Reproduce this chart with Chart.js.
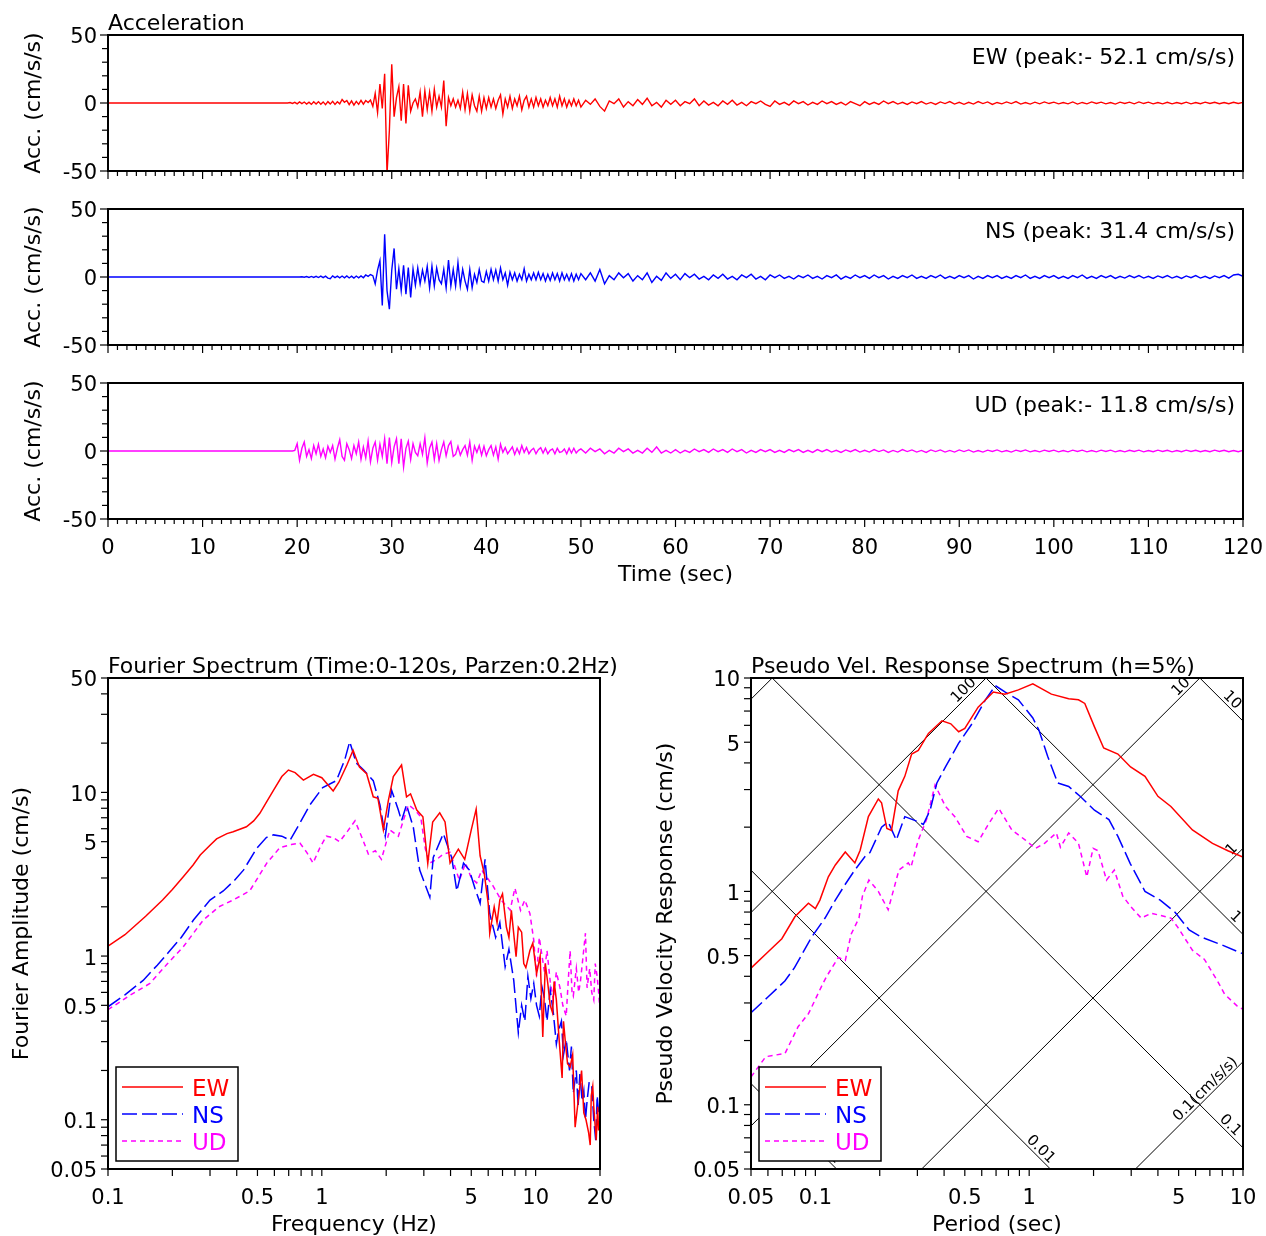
<!DOCTYPE html>
<html>
<head>
<meta charset="utf-8">
<title>Acceleration record and spectra</title>
<script src="https://cdn.jsdelivr.net/npm/chart.js@4.4.1/dist/chart.umd.min.js"></script>
<style>
  html, body { margin: 0; background: #fff; }
  #page { position: relative; width: 1266px; height: 1236px; }
  #page canvas { position: absolute; left: 0; top: 0; }
</style>
</head>
<body>
<div id="page">
  <canvas id="ew" width="1266" height="1236"></canvas>
  <canvas id="ns" width="1266" height="1236"></canvas>
  <canvas id="ud" width="1266" height="1236"></canvas>
  <canvas id="fourier" width="1266" height="1236"></canvas>
  <canvas id="psv" width="1266" height="1236"></canvas>
</div>
<script>
"use strict";

// ---- time histories (cm/s/s) ----
// strong part: 19 s .. 50 s every 0.25 s, coda: 50.5 s .. 120 s every 0.5 s
const strongStart = 19, strongStep = 0.25;
const codaStart = 50.5, codaStep = 0.5;

const ewStrong = [
  0, 0.3, -0.3, 0.5, -0.6, 0.8, -0.5, 0.7, -0.8, 0.6, -1.0, 0.9,
  -0.7, 1.0, -0.9, 0.8, -1.2, 1.0, -0.8, 1.2, -1.0, 0.9, -0.6, 2.6,
  0.5, 1.8, -1.2, 1.5, -1.6, 1.2, -1.0, 2.0, -0.8, 1.8, 0.4, 2.2,
  -2.5, 7.0, -7.0, 14.0, -4.0, 21.5, -52.1, -20.0, 28.5, -10, 4, 12,
  -13, 14, -15, 13, -6, 0, 3, -3, 8, -10, 9, -5,
  8, -6, 10, -3, 5, -3, 16.5, -17, 4, -2, 3, -3,
  2, -4, 8, -5, 7, -6, 6, -2, -6, 5, -6, 4,
  -4, 4, -3, 3, -4, 2, 6, -8, 3, -3, 5, -4,
  3, -2, 5, -5, 2, 5, -3, 3, -3, 4, -2, 3,
  -3, 2, -2, 4, -2, 3, -3, 5, -2, 3, -3, 2,
  -2, 3, -2, 2, -3
];
const ewCoda = [
  2, -1, 3, -2.5, -6, 1.5, -0.5, 3, -3, 1,
  -2, 2.5, -1, 3.5, -2, 0.5, -3, 2, -1, 2,
  -2, 1, -0.5, 3, -2, 1.5, -1.5, 0.5, -2, 1.5,
  -1, 2, -1.5, 0.5, -2, 1, -0.5, 1.5, -1, -2.5,
  1.5, -1, 0.5, -1.5, 1.5, -0.5, 1, -1.5, 0.5, -1,
  1.5, -0.5, 1, -1, 0.5, -1.5, 1, -0.5, -2, 1,
  -1, 0.5, -1, 1.5, -0.5, 1, -0.8, 0.5, -1, 0.8,
  -0.5, 1, -0.8, 0.4, -1, 0.8, -0.4, 1, -0.8, 0.5,
  -1, 0.5, -0.8, 1, -0.4, 0.8, -1, 0.4, -0.6, 0.8,
  -0.4, 1, -0.8, 0.3, -0.8, 0.6, -0.6, 0.8, -0.4, 0.6,
  -0.6, 0.3, -0.6, 0.8, -0.8, 0.4, -0.6, 0.8, -0.3, 0.6,
  -0.6, 0.3, -0.8, 0.6, -0.3, 0.6, -0.6, 0.8, -0.4, 0.6,
  -0.6, 0.3, -0.6, 0.5, -0.6, 0.3, -0.5, 0.6, -0.6, 0.3,
  -0.5, 0.6, -0.3, 0.5, -0.5, 0.3, -0.5, 0.5, -0.3, 0.5
];

const nsStrong = [
  0, 0, 0, 0, 0, 0, 0.2, -0.2, 0.3, -0.3, 0.4, -0.3,
  0.5, -0.4, 0.6, -0.5, 0.6, -0.8, -1.2, 0.8, -0.5, 0.6, -0.6, 0.7,
  -0.6, 0.8, -0.7, 0.6, -0.8, 0.7, -0.6, 0.8, -0.6, 1.5, 0.5, 1.8,
  1.0, -5, 5, 12, -21, 31.4, -10, -23.7, 5, 21, -9, 6,
  -10, 8.6, -12.7, 7, -15, 6, -6, 6.6, -5, 5, -3, 7.8,
  -8, 8, -6.6, 6.6, -2, -5, 5.6, -8, 12.5, -6.6, 5.6, -6.6,
  10.5, -6.6, 5.6, -3, -9, 5.6, -7.8, 2, -4, 5.6, -3, -4,
  4, -3, 5.6, -2, 5, -3, 6.6, -2, 3, -6, 3.5, -2,
  3, -3, 2, -2, 6, -3, 2, -2, 3, -2, 3.5, -2,
  2.5, -3, 2, -2.5, 3, -2, 2.5, -3, 3, -2, 2, -2.5,
  2.5, -3, 2, -2, 2.5
];
const nsCoda = [
  -2, 3, -3, 5.5, -5, 1, -2, 3, -0.5, 2.5,
  -3, 1, -2, 3, -4, 0.5, -2.5, 3, -1, 2,
  -2, 2.5, -0.5, 2, -1.5, 0.5, -2, 1.5, -1, 2,
  -1.5, 0.5, -2, 1.5, -0.5, 2, -1.5, 0.5, -2, 1.5,
  -0.5, 1.5, -1, 0.5, -1.5, 1, -0.5, 1.5, -1, 0.5,
  -1.5, 1, -0.5, 1.5, -1.5, 0.5, -1, 1.5, -0.5, 1,
  -1, 1.5, -0.5, 1, -1.5, 0.5, -1, 1, -0.5, 1.5,
  -1, 0.5, -1, 1, -0.5, 1.5, -1, 0.5, -1, 1,
  -0.5, 1, -1.5, 0.5, -1, 1, -0.5, 1, -1, 0.5,
  -1, 1, -0.5, 1.5, -1, 0.5, -1, 1, -0.5, 1,
  -1, 0.5, -1, 1, -0.5, 1.5, -1, 0.5, -1, 1,
  -0.5, 1, -1, 0.5, -0.8, 1, -0.5, 1, -0.8, 0.5,
  -1, 0.8, -0.5, 1, -0.8, 0.5, -1, 0.8, -0.5, 1,
  -0.8, 0.5, -1, 0.8, -0.5, 1, -0.8, 1.5, 2, 0.5
];

const udStrong = [
  0, 0, 0, 0.5, 5.4, -6.8, 2, 6.6, -4, 1, -5.6, 4,
  -2, 5, -4, 1.5, -5, 3.5, -1, 4, -6, 2, 8.3, -4,
  -6.8, 5.4, 1, -5.6, 4, -2, 6.6, -6.2, 3, -5, 7.3, -8,
  2, 6.6, -6.8, 5, -4, 9, -9.3, 9.8, -8.5, 3, 9, -9.3,
  9, -11.8, 2, 7.3, -6.2, 5.4, -1, -3.5, 5.4, -2.5, 9.8, -8.8,
  2, 6.6, -6.2, 5.4, -7, 1, 6.6, -3.5, 4, 7, -4, -2.5,
  3.5, -3, 1, 4, -3, 6.6, -7, 3.5, -1, 4, -3, 3.5,
  -3.5, 1, 4, -3, 3, -6, 5, -1, 2.5, -2, 0.5, 3,
  -2.5, 2, -2, 4, -1, 2.5, -2, 0.5, 2, -2, 1, 2.5,
  -1.5, 2, -2, 0.5, 1.5, -2, 2, -1, -0.5, 1.5, -2, 2,
  -1.5, 2, -1.5, 0.5, 1.5
];
const udCoda = [
  -1.5, 2, -0.5, 1.5, -2, 0.5, -1.5, 2, -0.5, 1.5,
  -1.5, 0.5, -1.5, 2, -1, 3, -1.5, 0.5, -1.5, 1,
  -1.5, 0.5, -1, 1.5, -0.5, 1, -1, 1.5, -0.5, 1,
  -1, 1.5, -0.5, 1, -1.5, 0.5, -1, 1, -0.5, 1,
  -1, 0.5, -1, 1, -0.5, 1, -1, 0.5, -1, 1,
  -0.5, 1, -0.8, 0.5, -1, 0.8, -0.5, 1, -0.8, 0.5,
  -0.8, 1, -0.4, 0.8, -1, 0.4, -0.8, 1, -0.4, 0.8,
  -0.8, 0.4, -1, 0.8, -0.4, 0.8, -0.8, 0.4, -0.8, 0.8,
  -0.4, 0.8, -0.8, 0.3, -0.8, 0.6, -0.3, 0.8, -0.6, 0.3,
  -0.8, 0.6, -0.3, 0.8, -0.6, 0.3, -0.6, 0.6, -0.3, 0.6,
  -0.6, 0.3, -0.6, 0.6, -0.3, 0.6, -0.6, 0.3, -0.6, 0.6,
  -0.3, 0.6, -0.6, 0.3, -0.6, 0.5, -0.3, 0.6, -0.6, 0.3,
  -0.5, 0.6, -0.3, 0.5, -0.6, 0.3, -0.5, 0.6, -0.3, 0.5,
  -0.5, 0.3, -0.5, 0.6, -0.3, 0.5, -0.5, 0.3, -0.5, 0.5
];

// ---- Fourier spectra (Hz, cm/s) ----
const ewFreq = [
  0.1, 0.12, 0.15, 0.18, 0.2, 0.225, 0.25, 0.27, 0.3, 0.322,
  0.36, 0.385, 0.444, 0.48, 0.513, 0.55, 0.594, 0.65, 0.698, 0.75,
  0.82, 0.914, 1.0, 1.13, 1.2, 1.31, 1.4, 1.45, 1.5, 1.62,
  1.74, 1.83, 1.94, 2.05, 2.16, 2.36, 2.49, 2.6, 2.78, 2.97,
  3.13, 3.3, 3.56, 3.77, 3.98, 4.35, 4.66, 5.0, 5.27, 5.5,
  5.75, 6.0, 6.1, 6.4, 6.6, 6.8, 7.0, 7.3, 7.5, 7.7,
  8.1, 8.3, 8.6, 8.8, 9.0, 9.4, 9.7, 10.1, 10.5, 10.8,
  11.1, 11.4, 11.7, 12.0, 12.2, 12.5, 12.9, 13.3, 13.5, 13.8,
  14.1, 14.5, 14.9, 15.3, 15.7, 16.1, 16.4, 16.8, 17.2, 17.7,
  18.0, 18.2, 18.5, 18.7, 19.2, 19.5, 19.7, 20
];
const ewFourier = [
  1.15, 1.35, 1.75, 2.2, 2.55, 3.05, 3.6, 4.14, 4.75, 5.2,
  5.6, 5.75, 6.17, 6.7, 7.45, 8.7, 10.3, 12.5, 13.7, 13.2,
  11.9, 12.9, 12.3, 10.2, 11.5, 14.7, 18.1, 16, 14.3, 13.0,
  9.4, 9.2, 5.9, 9, 12.5, 14.7, 9.4, 9.8, 7.8, 7.1,
  3.68, 6.6, 7.5, 6.6, 3.7, 4.5, 3.9, 5.9, 7.9, 4.1,
  3.2, 2.1, 1.38, 2.0, 1.6, 2.2, 2.4, 1.5, 1.3, 1.9,
  0.99, 1.5, 1.4, 0.9, 0.85, 1.08, 1.2, 0.78, 1.0, 0.32,
  0.9, 0.68, 0.5, 0.45, 0.7, 0.54, 0.3, 0.18, 0.4, 0.29,
  0.22, 0.21, 0.25, 0.09, 0.12, 0.16, 0.2, 0.11, 0.1, 0.083,
  0.07, 0.14, 0.16, 0.12, 0.075, 0.12, 0.086, 0.1
];
const nsFreq = [
  0.1, 0.12, 0.146, 0.17, 0.195, 0.22, 0.251, 0.3, 0.346, 0.39,
  0.43, 0.496, 0.55, 0.594, 0.65, 0.71, 0.79, 0.88, 1.01, 1.17,
  1.28, 1.35, 1.45, 1.57, 1.74, 1.87, 1.98, 2.12, 2.28, 2.36,
  2.49, 2.68, 2.87, 3.2, 3.32, 3.7, 4.05, 4.28, 4.6, 4.9,
  5.2, 5.5, 5.8, 6.1, 6.5, 6.8, 7.2, 7.5, 7.9, 8.3,
  8.6, 8.9, 9.2, 9.5, 9.8, 10.1, 10.4, 10.7, 11.0, 11.3,
  11.7, 12.1, 12.5, 12.8, 13.2, 13.5, 13.9, 14.4, 14.7, 15.0,
  15.5, 15.8, 16.1, 16.5, 16.8, 17.1, 17.4, 17.8, 18.3, 18.7,
  19.1, 19.4, 19.6, 20
];
const nsFourier = [
  0.49, 0.58, 0.71, 0.88, 1.08, 1.3, 1.66, 2.2, 2.5, 2.9,
  3.35, 4.55, 5.3, 5.5, 5.4, 5.1, 6.5, 8.4, 10.7, 11.8,
  15.8, 20.4, 15.1, 13.7, 11.8, 8.4, 5.4, 10.3, 7.8, 6.7,
  8.4, 6.1, 3.35, 2.29, 4.0, 5.6, 4.0, 2.5, 3.7, 3.35,
  2.6, 2.1, 3.9, 1.82, 1.3, 1.6, 0.86, 1.1, 0.71, 0.34,
  0.5, 0.4, 0.75, 0.55, 0.68, 0.5, 0.43, 0.65, 0.55, 0.4,
  0.62, 0.45, 0.29, 0.35, 0.4, 0.25, 0.31, 0.2, 0.28, 0.145,
  0.2, 0.12, 0.19, 0.13, 0.15, 0.1, 0.13, 0.17, 0.16, 0.1,
  0.075, 0.14, 0.12, 0.1
];
const udFreq = [
  0.1, 0.125, 0.157, 0.19, 0.225, 0.279, 0.33, 0.385, 0.46, 0.553,
  0.637, 0.72, 0.79, 0.85, 0.91, 0.98, 1.05, 1.13, 1.21, 1.32,
  1.43, 1.55, 1.65, 1.78, 1.9, 2.08, 2.28, 2.54, 2.73, 2.9,
  3.05, 3.2, 3.45, 3.7, 3.98, 4.4, 4.7, 5.0, 5.3, 5.6,
  6.3, 6.9, 7.6, 8.0, 8.5, 8.9, 9.4, 9.8, 10.1, 10.4,
  10.6, 11.0, 11.3, 11.7, 12.1, 12.5, 13.0, 13.4, 13.9, 14.2,
  14.5, 14.8, 15.0, 15.5, 15.9, 16.2, 16.6, 17.1, 17.4, 17.9,
  18.3, 18.7, 19.0, 19.4, 19.7, 20
];
const udFourier = [
  0.47, 0.57, 0.68, 0.9, 1.14, 1.66, 2.0, 2.2, 2.5, 3.7,
  4.6, 4.8, 4.9, 4.3, 3.7, 4.6, 5.4, 5.3, 5.0, 5.8,
  6.7, 5.2, 4.2, 4.4, 3.9, 5.9, 5.4, 8.4, 7.8, 7.1,
  4.5, 3.7, 3.9, 4.2, 4.3, 2.9, 3.7, 3.0, 2.8, 3.35,
  2.7, 2.2, 1.91, 2.6, 1.9, 2.2, 1.82, 1.25, 0.75, 1.3,
  1.1, 0.8, 1.08, 0.7, 0.54, 0.8, 0.64, 0.5, 0.43, 0.7,
  1.08, 0.6, 0.57, 0.84, 0.6, 0.7, 0.95, 1.38, 0.64, 0.84,
  0.6, 0.54, 0.9, 0.75, 0.6, 0.47
];

// ---- pseudo velocity response, h=5% (sec, cm/s) ----
const ewPeriod = [
  0.05, 0.06, 0.0697, 0.0802, 0.0928, 0.1, 0.105, 0.115, 0.124, 0.138,
  0.153, 0.162, 0.177, 0.197, 0.204, 0.216, 0.227, 0.244, 0.262, 0.282,
  0.303, 0.338, 0.391, 0.43, 0.468, 0.5, 0.577, 0.68, 0.77, 0.89,
  1.04, 1.27, 1.53, 1.7, 1.82, 2.02, 2.23, 2.6, 2.98, 3.48,
  4.0, 4.6, 5.8, 7.2, 8.5, 10
];
const ewPsv = [
  0.437, 0.52, 0.6, 0.76, 0.88, 0.83, 0.91, 1.17, 1.33, 1.53,
  1.36, 1.56, 2.24, 2.71, 2.6, 1.97, 1.93, 2.96, 3.46, 4.4,
  4.58, 5.5, 6.3, 6.1, 5.6, 5.8, 7.3, 8.6, 8.4, 8.8,
  9.4, 8.4, 8.0, 7.9, 7.6, 5.9, 4.7, 4.4, 3.83, 3.46,
  2.79, 2.5, 1.94, 1.68, 1.55, 1.45
];
const nsPeriod = [
  0.05, 0.06, 0.072, 0.08, 0.096, 0.111, 0.124, 0.138, 0.153, 0.171,
  0.18, 0.204, 0.219, 0.239, 0.262, 0.303, 0.32, 0.344, 0.37, 0.406,
  0.468, 0.54, 0.624, 0.695, 0.77, 0.89, 1.04, 1.11, 1.22, 1.36,
  1.53, 1.73, 2.02, 2.36, 2.6, 2.97, 3.48, 4.1, 4.8, 5.6,
  6.4, 8, 10
];
const nsPsv = [
  0.27, 0.32, 0.38, 0.44, 0.61, 0.75, 0.91, 1.08, 1.26, 1.46,
  1.52, 2.0, 2.12, 1.74, 2.24, 2.12, 2.06, 2.4, 3.22, 3.83,
  4.95, 6.1, 7.9, 9.2, 8.6, 7.9, 6.5, 5.7, 4.3, 3.22,
  3.1, 2.79, 2.4, 2.17, 1.81, 1.35, 1.0, 0.91, 0.8, 0.66,
  0.61, 0.56, 0.51
];
const udPeriod = [
  0.05, 0.0586, 0.0721, 0.083, 0.093, 0.107, 0.113, 0.128, 0.138, 0.147,
  0.16, 0.166, 0.178, 0.197, 0.219, 0.246, 0.272, 0.28, 0.303, 0.331,
  0.363, 0.406, 0.449, 0.51, 0.577, 0.64, 0.72, 0.83, 0.96, 1.07,
  1.18, 1.34, 1.4, 1.53, 1.7, 1.86, 1.99, 2.1, 2.3, 2.5,
  2.74, 2.98, 3.34, 3.73, 4.6, 4.95, 5.8, 6.6, 7.6, 8.2,
  9.4, 10
];
const udPsv = [
  0.135, 0.168, 0.174, 0.232, 0.268, 0.36, 0.4, 0.49, 0.475, 0.63,
  0.75, 0.95, 1.13, 1.0, 0.82, 1.26, 1.36, 1.3, 1.74, 2.17,
  3.15, 2.5, 2.24, 1.81, 1.71, 2.04, 2.45, 1.94, 1.74, 1.59,
  1.68, 1.88, 1.61, 1.88, 1.68, 1.17, 1.59, 1.55, 1.13, 1.26,
  0.95, 0.85, 0.75, 0.79, 0.75, 0.68, 0.53, 0.48, 0.38, 0.33,
  0.29, 0.28
];

// ---- axis labels ----
const timeLabels = [0, 10, 20, 30, 40, 50, 60, 70, 80, 90, 100, 110, 120];
const accLabels = [-50, 0, 50];
const freqLabels = [0.1, 0.5, 1, 5, 10, 20];
const fourierLabels = [0.05, 0.1, 0.5, 1, 5, 10, 50];
const periodLabels = [0.05, 0.1, 0.5, 1, 5, 10];
const psvLabels = [0.05, 0.1, 0.5, 1, 5, 10];

// tripartite grid: acceleration (cm/s/s) and displacement (cm) lines
const accLevels = [1000, 100, 10, 1, 0.1];
const accTags = ["", "100", "10", "1", "0.1(cm/s/s)"];
const dispLevels = [10, 1, 0.1, 0.01, 0.001];
const dispTags = ["10", "1", "0.1", "0.01", "0.001"];

const FONT = "'DejaVu Sans', sans-serif";
const PAGE_H = 1236, PAGE_W = 1266;
const RED = "#ff0000", BLUE = "#0000ff", MAGENTA = "#ff00ff";
const DY = 3; // middle baseline sits a little high for this font

Chart.defaults.font.family = FONT;
Chart.defaults.color = "#000";

function toPoints(strong, coda) {
  const pts = [{ x: 0, y: 0 }];
  strong.forEach((v, i) => pts.push({ x: strongStart + i * strongStep, y: v }));
  coda.forEach((v, i) => pts.push({ x: codaStart + i * codaStep, y: v }));
  return pts;
}

function pairs(xs, ys) {
  return xs.map((v, i) => ({ x: v, y: ys[i] }));
}

function range(from, to, step) {
  const out = [];
  for (let v = from; v <= to + 1e-9; v += step) out.push(Math.round(v * 1000) / 1000);
  return out;
}

function logTicks(min, max) {
  const out = [];
  for (let e = Math.floor(Math.log10(min)); e <= Math.ceil(Math.log10(max)); e++) {
    for (let m = 1; m <= 9; m++) {
      const v = Number((m * Math.pow(10, e)).toPrecision(6));
      if (v >= min * 0.999 && v <= max * 1.001) out.push(v);
    }
  }
  return out;
}

function labelFor(list) {
  return (v) => (list.some((l) => Math.abs(l - v) < 1e-9 * Math.max(1, Math.abs(l))) ? String(v) : "");
}

function tickLine(ctx, x1, y1, x2, y2) {
  ctx.beginPath();
  ctx.moveTo(x1, y1);
  ctx.lineTo(x2, y2);
  ctx.stroke();
}

function drawLegend(chart) {
  const { ctx, chartArea: a } = chart;
  const left = a.left + 8, top = a.bottom - 102;
  ctx.save();
  ctx.fillStyle = "#fff";
  ctx.fillRect(left, top, 122, 94);
  ctx.strokeStyle = "#000";
  ctx.lineWidth = 1.5;
  ctx.strokeRect(left, top, 122, 94);
  ctx.font = `23px ${FONT}`;
  ctx.textBaseline = "middle";
  ctx.textAlign = "left";
  chart.data.datasets.forEach((ds, i) => {
    const yy = top + 20 + i * 27;
    ctx.strokeStyle = ds.borderColor;
    ctx.lineWidth = ds.borderWidth;
    ctx.setLineDash(ds.borderDash || []);
    tickLine(ctx, left + 6, yy, left + 67, yy);
    ctx.setLineDash([]);
    ctx.fillStyle = ds.borderColor;
    ctx.fillText(ds.label, left + 76, yy + DY);
  });
  ctx.restore();
}

function tagLine(ctx, text, end, dx, dy, back) {
  if (!text) return;
  const len = Math.hypot(dx, dy), ux = dx / len, uy = dy / len;
  ctx.save();
  ctx.translate(end[0] - ux * back, end[1] - uy * back);
  ctx.rotate(Math.atan2(uy, ux));
  ctx.textAlign = "right";
  ctx.textBaseline = "alphabetic";
  ctx.fillText(text, 0, -3);
  ctx.restore();
}

function drawTripartite(chart) {
  const { ctx, chartArea: a, scales: { x, y } } = chart;
  const px = (T, V) => [x.getPixelForValue(T), y.getPixelForValue(V)];
  ctx.save();
  ctx.beginPath();
  ctx.rect(a.left, a.top, a.right - a.left, a.bottom - a.top);
  ctx.clip();
  ctx.strokeStyle = "#000";
  ctx.fillStyle = "#000";
  ctx.lineWidth = 1;
  ctx.font = `15px ${FONT}`;

  accLevels.forEach((acc, i) => {
    const vOf = (T) => acc * T / (2 * Math.PI);
    const p0 = px(x.min, vOf(x.min)), p1 = px(x.max, vOf(x.max));
    tickLine(ctx, p0[0], p0[1], p1[0], p1[1]);
    const tTop = 2 * Math.PI * y.max / acc;
    const tEnd = Math.min(x.max, tTop);
    tagLine(ctx, accTags[i], px(tEnd, vOf(tEnd)), p1[0] - p0[0], p1[1] - p0[1], tTop < x.max ? 10 : 4);
  });

  dispLevels.forEach((d, i) => {
    const vOf = (T) => 2 * Math.PI * d / T;
    const p0 = px(x.min, vOf(x.min)), p1 = px(x.max, vOf(x.max));
    tickLine(ctx, p0[0], p0[1], p1[0], p1[1]);
    const tEnd = Math.min(x.max, 2 * Math.PI * d / y.min);
    tagLine(ctx, dispTags[i], px(tEnd, vOf(tEnd)), p1[0] - p0[0], p1[1] - p0[1], tEnd < x.max ? 4 : 13);
  });
  ctx.restore();
}

// frame, outside ticks, titles and notes for one panel
function panelPlugin(cfg) {
  return {
    id: "panel",
    beforeDatasetsDraw(chart) {
      if (cfg.underlay) cfg.underlay(chart);
    },
    afterDatasetsDraw(chart) {
      if (cfg.legend) drawLegend(chart);
    },
    afterDraw(chart) {
      const { ctx, chartArea: a, scales: { x, y } } = chart;
      ctx.save();
      ctx.strokeStyle = "#000";
      ctx.lineWidth = 1.2;
      x.ticks.forEach((t) => {
        const p = x.getPixelForValue(t.value);
        tickLine(ctx, p, a.bottom, p, a.bottom + cfg.xTickLen(t.value));
      });
      y.ticks.forEach((t) => {
        const p = y.getPixelForValue(t.value);
        tickLine(ctx, a.left, p, a.left - cfg.yTickLen(t.value), p);
      });
      ctx.lineWidth = 2;
      ctx.strokeRect(a.left, a.top, a.right - a.left, a.bottom - a.top);

      ctx.fillStyle = "#000";
      ctx.font = `22px ${FONT}`;
      ctx.textBaseline = "middle";
      if (cfg.title) {
        ctx.textAlign = "left";
        ctx.fillText(cfg.title, a.left, a.top - 14 + DY);
      }
      if (cfg.note) {
        ctx.textAlign = "right";
        ctx.fillText(cfg.note, a.right - 8, a.top + 20 + DY);
      }
      if (cfg.xTitle) {
        ctx.textAlign = "center";
        ctx.fillText(cfg.xTitle, (a.left + a.right) / 2, cfg.xTitleY + DY);
      }
      if (cfg.yTitle) {
        ctx.save();
        ctx.translate(cfg.yTitleX, (a.top + a.bottom) / 2);
        ctx.rotate(-Math.PI / 2);
        ctx.textAlign = "center";
        ctx.fillText(cfg.yTitle, 0, DY);
        ctx.restore();
      }
      ctx.restore();
    },
  };
}

function baseOptions(box) {
  return {
    responsive: false,
    animation: false,
    devicePixelRatio: 1,
    events: [],
    layout: { padding: { left: 0, top: box.top, right: PAGE_W - box.right, bottom: 0 } },
    plugins: { legend: { display: false }, tooltip: { enabled: false } },
  };
}

function axis(box, which, extra) {
  const fit = which === "x"
    ? (s) => { s.height = PAGE_H - box.bottom; s.paddingLeft = 0; s.paddingRight = 0; }
    : (s) => { s.width = box.left; s.paddingTop = 0; s.paddingBottom = 0; };
  return Object.assign({
    afterFit: fit,
    grid: { display: false, drawTicks: false },
    border: { display: false },
  }, extra);
}

function timeChart(id, label, color, strong, coda, box, cfg) {
  return new Chart(document.getElementById(id), {
    type: "line",
    data: {
      datasets: [{
        label: label,
        data: toPoints(strong, coda),
        borderColor: color,
        borderWidth: 1.4,
        pointRadius: 0,
        tension: 0,
      }],
    },
    options: Object.assign(baseOptions(box), {
      scales: {
        x: axis(box, "x", {
          type: "linear", min: 0, max: 120,
          afterBuildTicks: (s) => { s.ticks = range(0, 120, 1).map((v) => ({ value: v })); },
          ticks: {
            display: !!cfg.showTime, autoSkip: false, maxRotation: 0, minRotation: 0,
            padding: 17, font: { size: 21 }, color: "#000", callback: labelFor(timeLabels),
          },
        }),
        y: axis(box, "y", {
          type: "linear", min: -50, max: 50,
          afterBuildTicks: (s) => { s.ticks = range(-50, 50, 10).map((v) => ({ value: v })); },
          ticks: {
            autoSkip: false, padding: 11, labelOffset: DY,
            font: { size: 21 }, color: "#000", callback: labelFor(accLabels),
          },
        }),
      },
    }),
    plugins: [panelPlugin(Object.assign({
      xTickLen: (v) => (v % 10 === 0 ? 8 : 5),
      yTickLen: (v) => (v % 50 === 0 ? 8 : 6),
      yTitle: "Acc. (cm/s/s)",
      yTitleX: 31,
    }, cfg))],
  });
}

function spectrumDataset(label, color, dash, points) {
  return {
    label: label,
    data: points,
    borderColor: color,
    borderWidth: 1.5,
    borderDash: dash,
    pointRadius: 0,
    tension: 0,
  };
}

function logChart(id, box, datasets, xr, yr, cfg) {
  return new Chart(document.getElementById(id), {
    type: "line",
    data: { datasets: datasets },
    options: Object.assign(baseOptions(box), {
      scales: {
        x: axis(box, "x", {
          type: "logarithmic", min: xr.min, max: xr.max,
          afterBuildTicks: (s) => { s.ticks = logTicks(xr.min, xr.max).map((v) => ({ value: v })); },
          ticks: {
            autoSkip: false, maxRotation: 0, minRotation: 0, padding: 17,
            font: { size: 21 }, color: "#000", callback: labelFor(xr.labels),
          },
        }),
        y: axis(box, "y", {
          type: "logarithmic", min: yr.min, max: yr.max,
          afterBuildTicks: (s) => { s.ticks = logTicks(yr.min, yr.max).map((v) => ({ value: v })); },
          ticks: {
            autoSkip: false, padding: 11, labelOffset: DY,
            font: { size: 21 }, color: "#000", callback: labelFor(yr.labels),
          },
        }),
      },
    }),
    plugins: [panelPlugin(Object.assign({
      xTickLen: () => 7,
      yTickLen: () => 7,
      xTitleY: 1222,
      legend: true,
    }, cfg))],
  });
}

const ewBox = { left: 108, top: 35, right: 1243, bottom: 171 };
const nsBox = { left: 108, top: 209, right: 1243, bottom: 345 };
const udBox = { left: 108, top: 383, right: 1243, bottom: 519 };
const fourierBox = { left: 108, top: 678, right: 600, bottom: 1169 };
const psvBox = { left: 751, top: 678, right: 1243, bottom: 1169 };

timeChart("ew", "EW", RED, ewStrong, ewCoda, ewBox, {
  title: "Acceleration",
  note: "EW (peak:- 52.1 cm/s/s)",
});
timeChart("ns", "NS", BLUE, nsStrong, nsCoda, nsBox, {
  note: "NS (peak: 31.4 cm/s/s)",
});
timeChart("ud", "UD", MAGENTA, udStrong, udCoda, udBox, {
  note: "UD (peak:- 11.8 cm/s/s)",
  showTime: true,
  xTitle: "Time (sec)",
  xTitleY: 572,
});

logChart("fourier", fourierBox, [
  spectrumDataset("EW", RED, [], pairs(ewFreq, ewFourier)),
  spectrumDataset("NS", BLUE, [15, 5], pairs(nsFreq, nsFourier)),
  spectrumDataset("UD", MAGENTA, [5, 4], pairs(udFreq, udFourier)),
], { min: 0.1, max: 20, labels: freqLabels }, { min: 0.05, max: 50, labels: fourierLabels }, {
  title: "Fourier Spectrum (Time:0-120s, Parzen:0.2Hz)",
  xTitle: "Frequency (Hz)",
  yTitle: "Fourier Amplitude (cm/s)",
  yTitleX: 19,
});

logChart("psv", psvBox, [
  spectrumDataset("EW", RED, [], pairs(ewPeriod, ewPsv)),
  spectrumDataset("NS", BLUE, [15, 5], pairs(nsPeriod, nsPsv)),
  spectrumDataset("UD", MAGENTA, [5, 4], pairs(udPeriod, udPsv)),
], { min: 0.05, max: 10, labels: periodLabels }, { min: 0.05, max: 10, labels: psvLabels }, {
  title: "Pseudo Vel. Response Spectrum (h=5%)",
  xTitle: "Period (sec)",
  yTitle: "Pseudo Velocity Response (cm/s)",
  yTitleX: 663,
  underlay: drawTripartite,
});
</script>
</body>
</html>
